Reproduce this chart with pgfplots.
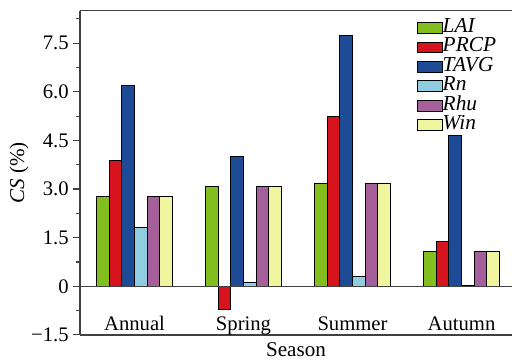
\documentclass[border=0pt]{standalone}
\usepackage{fontspec}
\setmainfont{Liberation Serif}
\usepackage{pgfplots}
\pgfplotsset{compat=1.18}
\definecolor{cLAI}{RGB}{130,190,30}
\definecolor{cPRCP}{RGB}{215,20,30}
\definecolor{cTAVG}{RGB}{30,75,150}
\definecolor{cRn}{RGB}{145,205,225}
\definecolor{cRhu}{RGB}{165,95,155}
\definecolor{cWin}{RGB}{240,245,160}
\begin{document}
\begin{tikzpicture}
\begin{axis}[
  name=ax,
  scale only axis,
  width=324pt, height=243.2pt,
  xmin=-0.5, xmax=3.463,
  ymin=-1.5, ymax=8.5,
  axis x line*=box,
  axis y line*=left,
  axis line style={black!75, line width=0.9pt},
  ybar=0pt,
  bar width=0.1162,
  xtick={0,1,2,3},
  xticklabels={Annual,Spring,Summer,Autumn},
  major x tick style={draw=none},
  xticklabel style={anchor=base, yshift=8pt},
  ytick={-1.5,0,1.5,3.0,4.5,6.0,7.5},
  yticklabels={−1.5,0,1.5,3.0,4.5,6.0,7.5},
  minor ytick={-0.75,0.75,2.25,3.75,5.25,6.75,8.25},
  tick align=outside,
  major tick length=5pt,
  minor tick length=3pt,
  tick style={black!75, line width=0.8pt},
  tick label style={font=\fontsize{15.5}{15.5}\selectfont},
  label style={font=\fontsize{15.8}{15.8}\selectfont},
  xlabel={Season},
  xlabel style={at={(rel axis cs:0.5,0)}, anchor=base, yshift=-16.3pt},
  ylabel={\textit{CS} (\%)},
  ylabel style={at={(rel axis cs:0,0.5)}, anchor=south, yshift=35pt},
  legend image code/.code={\draw[#1] (0pt,-4.1pt) rectangle (18.75pt,4.1pt);},
  legend style={at={(rel axis cs:0.779,1)}, anchor=north west, yshift=-5.5pt,
    draw=none, fill=none, inner sep=0pt, row sep=0pt,
    font=\itshape\fontsize{16}{16}\selectfont,
    nodes={inner sep=0pt, text height=10.6pt, text depth=4pt},
    /tikz/every even column/.append style={column sep=6pt}},
  legend cell align=left,
  every axis plot/.append style={draw=black, line width=0.7pt},
]
\addplot[fill=cLAI] coordinates {(0,2.77) (1,3.09) (2,3.18) (3,1.08)};
\addplot[fill=cPRCP] coordinates {(0,3.88) (1,-0.72) (2,5.25) (3,1.37)};
\addplot[fill=cTAVG] coordinates {(0,6.20) (1,4.00) (2,7.74) (3,4.64)};
\addplot[fill=cRn] coordinates {(0,1.82) (1,0.12) (2,0.31) (3,0.02)};
\addplot[fill=cRhu] coordinates {(0,2.77) (1,3.09) (2,3.18) (3,1.08)};
\addplot[fill=cWin] coordinates {(0,2.77) (1,3.09) (2,3.18) (3,1.08)};
\legend{LAI,PRCP,TAVG,Rn,Rhu,Win}
\draw[black!75, line width=0.8pt] (axis cs:-0.5,0) -- (axis cs:3.463,0);
\end{axis}
\path (ax.south west) ++(-60pt,-18.75pt) coordinate (bl);
\path (ax.north east) ++(0pt,8pt) coordinate (tr);
\pgfresetboundingbox
\path[use as bounding box] (bl) rectangle (tr);
\end{tikzpicture}
\end{document}
